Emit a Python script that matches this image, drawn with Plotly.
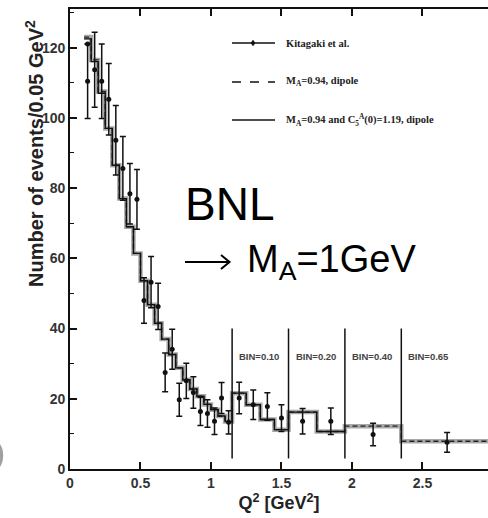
import plotly.graph_objects as go

# ---------------- data ----------------
q2_points = [0.125, 0.125, 0.175, 0.225, 0.275, 0.325, 0.375, 0.425, 0.475,
             0.525, 0.575, 0.625, 0.675, 0.725, 0.775, 0.825, 0.875, 0.925,
             0.975, 1.025, 1.075, 1.125, 1.20, 1.30, 1.40, 1.50, 1.65, 1.85,
             2.15, 2.675]
events = [110.4, 121.0, 113.7, 110.4, 105.3, 93.6, 85.6, 78.4, 76.8,
          48.0, 53.2, 46.3, 27.5, 34.1, 19.7, 25.1, 21.8, 16.4,
          15.8, 13.6, 20.2, 13.3, 20.2, 18.3, 17.8, 14.5, 13.6, 13.6,
          9.8, 7.6]
errors = [10.6, 0.0, 10.7, 10.6, 10.2, 9.9, 9.1, 8.6, 8.5,
          6.5, 7.3, 6.6, 5.5, 5.7, 4.7, 5.0, 4.5, 4.0,
          3.9, 3.8, 4.4, 3.3, 4.5, 4.2, 3.9, 3.8, 3.6, 3.8,
          3.2, 2.8]

hist_edges = [0.10, 0.15, 0.20, 0.25, 0.30, 0.35, 0.40, 0.45, 0.50, 0.55,
              0.60, 0.65, 0.70, 0.75, 0.80, 0.85, 0.90, 0.95, 1.00, 1.05,
              1.10, 1.15, 1.25, 1.35, 1.45, 1.55, 1.75, 1.95, 2.35, 3.00]
hist_dipole = [123.0, 116.5, 107.5, 97.0, 86.5, 77.0, 69.0, 61.4, 53.6, 46.8,
               41.5, 37.0, 32.6, 28.8, 25.4, 22.8, 20.7, 18.4, 16.9, 15.1,
               13.5, 21.6, 18.3, 14.1, 11.2, 16.2, 10.7, 12.2, 7.9]
hist_c5a_edges = [0.10, 0.15, 0.20, 0.25, 0.30, 0.35, 0.40, 0.45, 0.50, 0.55,
                  0.60, 0.65, 0.70, 0.75, 0.80, 0.85, 0.90, 0.95, 1.00, 1.05,
                  1.10, 1.15, 1.25, 1.35, 1.45, 1.55, 1.75, 1.95]
hist_c5a = [122.5, 116.0, 107.0, 97.0, 86.5, 77.0, 69.0, 61.4, 53.6, 46.8,
            41.5, 37.0, 32.6, 28.8, 25.4, 22.8, 20.7, 18.4, 16.9, 15.1,
            13.5, 21.6, 18.3, 14.1, 11.2, 16.2, 10.7]

bin_edges = [1.15, 1.55, 1.95, 2.35]
bin_labels = ["BIN=0.10", "BIN=0.20", "BIN=0.40", "BIN=0.65"]

x_ticks = [0, 0.5, 1, 1.5, 2, 2.5]
x_tick_text = ["0", "0.5", "1", "1.5", "2", "2.5"]
y_ticks = [0, 20, 40, 60, 80, 100, 120]

legend_labels = ["Kitagaki et al.",
                 "M<sub>A</sub>=0.94, dipole",
                 "M<sub>A</sub>=0.94 and C<sub>5</sub><sup>A</sup>(0)=1.19, dipole"]

# ---------------- layout geometry ----------------
W, H = 488, 518
L, T, B, R = 70, 9, 49, 0
PW, PH = W - L - R, H - T - B


def xp(px):
    return (px - L) / PW


def yp(py):
    return (H - B - py) / PH


fig = go.Figure()

# dipole histogram: grey band + black dashes
fig.add_trace(go.Scatter(x=hist_edges, y=hist_dipole + [hist_dipole[-1]],
                         mode="lines", line=dict(shape="hv", color="#a8a8a8", width=4.5),
                         hoverinfo="skip", showlegend=False))
fig.add_trace(go.Scatter(x=hist_edges, y=hist_dipole + [hist_dipole[-1]],
                         mode="lines", line=dict(shape="hv", color="#222", width=1.4, dash="5px,3px"),
                         hoverinfo="skip", showlegend=False))
# C5A histogram: solid black
fig.add_trace(go.Scatter(x=hist_c5a_edges, y=hist_c5a + [hist_c5a[-1]],
                         mode="lines", line=dict(shape="hv", color="#111", width=1.4),
                         hoverinfo="skip", showlegend=False))

# bin separators
sx, sy = [], []
for e in bin_edges:
    sx += [e, e, None]
    sy += [3, 40, None]
fig.add_trace(go.Scatter(x=sx, y=sy, mode="lines", line=dict(color="#111", width=1.5),
                         hoverinfo="skip", showlegend=False))

# data points
fig.add_trace(go.Scatter(x=q2_points, y=events, mode="markers",
                         marker=dict(color="#111", size=5),
                         error_y=dict(type="data", array=errors, color="#111",
                                      thickness=1.5, width=3),
                         showlegend=False))

annotations = []
for e, lab in zip(bin_edges, bin_labels):
    annotations.append(dict(x=e, y=32, xref="x", yref="y", text=lab, showarrow=False,
                            xanchor="left", yanchor="middle", xshift=5,
                            font=dict(family="Liberation Sans, Arial", size=9.5,
                                      color="#444", weight="bold")))

# legend (drawn manually)
leg_y = [43, 82, 120]
shapes = []
for i, (yy, lab) in enumerate(zip(leg_y, legend_labels)):
    dash = "dash" if i == 1 else "solid"
    shapes.append(dict(type="line", xref="paper", yref="paper",
                       x0=xp(232), x1=xp(275), y0=yp(yy), y1=yp(yy),
                       line=dict(color="#111", width=1.4, dash=dash)))
    annotations.append(dict(x=xp(284), y=yp(yy), xref="paper", yref="paper", text=lab,
                            showarrow=False, xanchor="left", yanchor="middle",
                            font=dict(family="Liberation Serif, Times New Roman", size=10.5,
                                      color="#222", weight="bold")))
shapes.append(dict(type="circle", xref="paper", yref="paper",
                   x0=xp(251), x1=xp(255), y0=yp(41), y1=yp(45),
                   fillcolor="#111", line=dict(color="#111", width=0)))
shapes.append(dict(type="line", xref="paper", yref="paper",
                   x0=xp(253), x1=xp(253), y0=yp(40), y1=yp(46),
                   line=dict(color="#111", width=1.2)))

# arrow drawn as a path
arrow_path = "M {:.5f},{:.5f} L {:.5f},{:.5f} M {:.5f},{:.5f} L {:.5f},{:.5f} L {:.5f},{:.5f}".format(
    xp(185), yp(262), xp(229), yp(262),
    xp(221), yp(255), xp(229.5), yp(262), xp(221), yp(269))
shapes.append(dict(type="path", xref="paper", yref="paper", path=arrow_path,
                   line=dict(color="#000", width=2)))

# big slide texts
annotations.append(dict(x=xp(183), y=yp(204), xref="paper", yref="paper", text="BNL",
                        showarrow=False, xanchor="left", yanchor="middle",
                        font=dict(family="Liberation Sans, Arial", size=46, color="#000")))
annotations.append(dict(x=xp(245), y=yp(262), xref="paper", yref="paper",
                        text="M<sub>A</sub>=1GeV",
                        showarrow=False, xanchor="left", yanchor="middle",
                        font=dict(family="Liberation Sans, Arial", size=38, color="#000")))
annotations.append(dict(x=xp(9), y=yp(494), xref="paper", yref="paper", text="5",
                        showarrow=False, xanchor="right", yanchor="bottom",
                        font=dict(family="Liberation Sans, Arial", size=84, color="#a0a0a0")))

# y title
annotations.append(dict(x=xp(35), y=yp(154), xref="paper", yref="paper",
                        text="Number of events/0.05 GeV<sup>2</sup>", textangle=-90,
                        showarrow=False, xanchor="center", yanchor="middle",
                        font=dict(family="Liberation Sans, Arial", size=20,
                                  color="#222", weight="bold")))

fig.update_layout(
    width=W, height=H,
    margin=dict(l=L, r=R, t=T, b=B, pad=0),
    paper_bgcolor="white", plot_bgcolor="white",
    showlegend=False,
    annotations=annotations, shapes=shapes,
    xaxis=dict(range=[0, 2.965], tickvals=x_ticks, ticktext=x_tick_text,
               ticks="inside", ticklen=7, tickwidth=1.5, tickcolor="#111",
               showline=True, linecolor="#111", linewidth=1.8, mirror="ticks",
               showgrid=False, zeroline=False,
               tickfont=dict(family="Liberation Sans, Arial", size=14, color="#333", weight="bold"),
               title=dict(text="Q<sup>2</sup> [GeV<sup>2</sup>]", standoff=6,
                          font=dict(family="Liberation Sans, Arial", size=18,
                                    color="#222", weight="bold"))),
    yaxis=dict(range=[0, 131], tickvals=y_ticks,
               ticks="inside", ticklen=7, tickwidth=1.5, tickcolor="#111",
               minor=dict(dtick=10, tick0=0, ticks="inside", ticklen=4, tickwidth=1.2,
                          tickcolor="#111", showgrid=False),
               showline=True, linecolor="#111", linewidth=1.8,
               showgrid=False, zeroline=False,
               tickfont=dict(family="Liberation Sans, Arial", size=14, color="#333", weight="bold")),
)

fig.write_html("out.html")
